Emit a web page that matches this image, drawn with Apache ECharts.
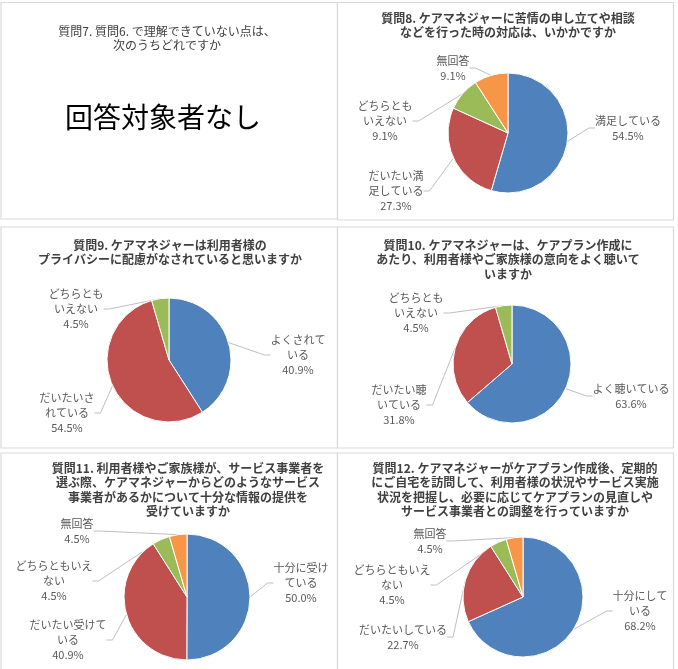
<!DOCTYPE html>
<html>
<head>
<meta charset="utf-8">
<script src="https://cdn.jsdelivr.net/npm/echarts@6/dist/echarts.min.js"></script>
<style>
html, body { margin: 0; padding: 0; background: #fff; }
#main { width: 678px; height: 669px; }
</style>
</head>
<body>
<div id="main"></div>
<script>
var colors = ['#4F81BD', '#C0504D', '#9BBB59', '#F79646'];

// 質問8
var q8Names = ['満足している', 'だいたい満足している', 'どちらともいえない', '無回答'];
var q8Labels = ['満足している', 'だいたい満\n足している', 'どちらとも\nいえない', '無回答'];
var q8Values = [54.5, 27.3, 9.1, 9.1];

// 質問9
var q9Names = ['よくされている', 'だいたいされている', 'どちらともいえない'];
var q9Labels = ['よくされて\nいる', 'だいたいさ\nれている', 'どちらとも\nいえない'];
var q9Values = [40.9, 54.5, 4.5];

// 質問10
var q10Names = ['よく聴いている', 'だいたい聴いている', 'どちらともいえない'];
var q10Labels = ['よく聴いている', 'だいたい聴\nいている', 'どちらとも\nいえない'];
var q10Values = [63.6, 31.8, 4.5];

// 質問11
var q11Names = ['十分に受けている', 'だいたい受けている', 'どちらともいえない', '無回答'];
var q11Labels = ['十分に受け\nている', 'だいたい受けて\nいる', 'どちらともいえ\nない', '無回答'];
var q11Values = [50.0, 40.9, 4.5, 4.5];

// 質問12
var q12Names = ['十分にしている', 'だいたいしている', 'どちらともいえない', '無回答'];
var q12Labels = ['十分にして\nいる', 'だいたいしている', 'どちらともいえ\nない', '無回答'];
var q12Values = [68.2, 22.7, 4.5, 4.5];

var titles = [
    '質問7. 質問6. で理解できていない点は、\n次のうちどれですか',
    '質問8. ケアマネジャーに苦情の申し立てや相談\nなどを行った時の対応は、いかかですか',
    '質問9. ケアマネジャーは利用者様の\nプライバシーに配慮がなされていると思いますか',
    '質問10. ケアマネジャーは、ケアプラン作成に\nあたり、利用者様やご家族様の意向をよく聴いて\nいますか',
    '質問11. 利用者様やご家族様が、サービス事業者を\n選ぶ際、ケアマネジャーからどのようなサービス\n事業者があるかについて十分な情報の提供を\n受けていますか',
    '質問12. ケアマネジャーがケアプラン作成後、定期的\nにご自宅を訪問して、利用者様の状況やサービス実施\n状況を把握し、必要に応じてケアプランの見直しや\nサービス事業者との調整を行っていますか'
];
var noAnswerText = '回答対象者なし';

// layout: panel frames, title anchors, pie centers and label anchors
var panelRects = [
    [1, 2.5, 336.5, 216.5], [337.5, 2.5, 336, 217.5],
    [1, 227, 336.5, 221], [337.5, 227, 336, 221],
    [1, 453, 336.5, 220], [337.5, 453, 336, 220]
];
var titlePos = [[167, 24], [508, 11], [170, 238], [508, 238], [188, 461], [515, 461]];

var fontFamily = '"Noto Sans CJK JP", sans-serif';

function buildPie(names, labels, values, center, radius, labelPos)
{
    return {
        type: 'pie',
        center: center,
        radius: radius,
        startAngle: 90,
        clockwise: true,
        avoidLabelOverlap: false,
        silent: true,
        itemStyle: { borderColor: '#fff', borderWidth: 1 },
        label: {
            show: true,
            position: 'outside',
            color: '#595959',
            fontSize: 11,
            lineHeight: 15,
            fontFamily: fontFamily,
            formatter: function (p) {
                return labels[p.dataIndex] + '\n' + values[p.dataIndex].toFixed(1) + '%';
            }
        },
        labelLine: {
            show: true,
            length: 8,
            length2: 6,
            lineStyle: { color: '#bfbfbf', width: 1 }
        },
        labelLayout: function (p) {
            var q = labelPos[p.dataIndex];
            return { x: q[0], y: q[1], align: 'center', verticalAlign: 'middle' };
        },
        data: names.map(function (n, i) {
            return { name: n, value: values[i], itemStyle: { color: colors[i] } };
        })
    };
}

var titleList = titles.map(function (t, i) {
    return {
        text: t,
        left: titlePos[i][0],
        top: titlePos[i][1],
        textAlign: 'center',
        padding: 0,
        textStyle: {
            fontFamily: fontFamily,
            fontSize: 12,
            lineHeight: 14.5,
            fontWeight: i === 0 ? 'normal' : 'bold',
            color: '#404040'
        }
    };
});
titleList.push({
    text: noAnswerText,
    left: 163,
    top: 103,
    textAlign: 'center',
    padding: 0,
    textStyle: { fontFamily: fontFamily, fontSize: 28, fontWeight: 'normal', color: '#000' }
});

var option = {
    animation: false,
    textStyle: { fontFamily: fontFamily },
    title: titleList,
    graphic: panelRects.map(function (r) {
        return {
            type: 'rect',
            z: -10,
            shape: { x: r[0], y: r[1], width: r[2], height: r[3] },
            style: { fill: '#fff', stroke: '#d9d9d9', lineWidth: 1.2 }
        };
    }),
    series: [
        buildPie(q8Names, q8Labels, q8Values, [508, 133], 60,
            [[628, 128], [396, 191], [385, 121], [453, 68]]),
        buildPie(q9Names, q9Labels, q9Values, [169, 360], 62,
            [[298, 355], [67, 413], [76, 309]]),
        buildPie(q10Names, q10Labels, q10Values, [512, 364], 59,
            [[631, 396], [399, 405], [416, 313]]),
        buildPie(q11Names, q11Labels, q11Values, [187, 597], 63,
            [[301, 583], [68, 640], [54, 581], [77, 531]]),
        buildPie(q12Names, q12Labels, q12Values, [523, 597], 60,
            [[640, 611], [403, 637], [392, 585], [430, 541]])
    ]
};

var chart = echarts.init(document.getElementById('main'));
chart.setOption(option);
</script>
</body>
</html>
